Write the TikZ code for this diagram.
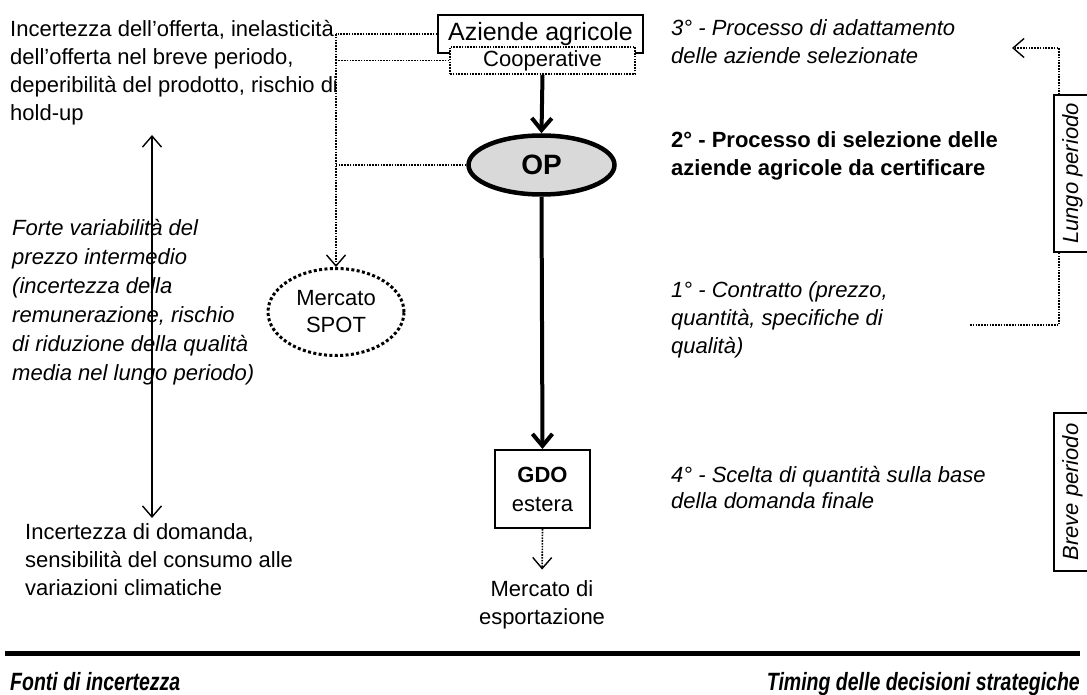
\documentclass[tikz,border=0pt]{standalone}
\usepackage{fontspec}
\setmainfont{Liberation Sans}
\newfontfamily\narrowfont[FakeStretch=0.78]{Liberation Sans}
\usetikzlibrary{shapes.geometric, arrows.meta}
\definecolor{opgray}{RGB}{217,217,217}
\tikzset {
    every node/.style={font=\fontsize{22}{28}\selectfont, inner sep=0pt},
    txt/.style={align=left, anchor=north west},
    box/.style={draw, line width=1.8pt, align=center},
    dotbox/.style={draw, dash pattern=on 1.6pt off 1.2pt, line width=1.8pt, fill=white},
    dotline/.style={dash pattern=on 1.6pt off 1.2pt, line width=1.6pt},
    barb/.style={-{Straight Barb[length=11pt,width=19pt,line width=1.4pt]}},
    heavy/.style={line width=4pt, -{Straight Barb[length=12pt,width=20pt,line width=4pt]}},
    period/.style={draw, fill=white, line width=1.8pt, rotate=90, minimum height=37pt,
        font=\fontsize{22}{28}\selectfont\itshape},
    heading/.style={font=\narrowfont\fontsize{25}{28}\selectfont\bfseries\itshape}
}
\begin{document}
\begin{tikzpicture}[x=1pt, y=-1pt]
    \useasboundingbox (0,0) rectangle (1087,695);

    \node[txt] (offerta) at (10,20) {Incertezza dell'offerta, inelasticità\\dell'offerta nel breve periodo,\\deperibilità del prodotto, rischio di\\hold-up};
    \node[txt, font=\fontsize{22}{29}\selectfont\itshape] (prezzo) at (12,219) {Forte variabilità del\\prezzo intermedio\\(incertezza della\\remunerazione, rischio\\di riduzione della qualità\\media nel lungo periodo)};
    \node[txt] (domanda) at (25,523) {Incertezza di domanda,\\sensibilità del consumo alle\\variazioni climatiche};

    \node[box, minimum width=205, minimum height=38, font=\fontsize{25}{30}\selectfont] (az) at (540.5,34) {Aziende agricole};
    \node[dotbox, minimum width=185, minimum height=27] (coop) at (542.5,60.5) {Cooperative};
    \node[ellipse, draw, fill=opgray, line width=4.5pt, minimum width=146, minimum height=59,
        font=\fontsize{28}{30}\selectfont\bfseries] (op) at (541.5,165) {OP};
    \node[ellipse, draw, dash pattern=on 3pt off 2.4pt, line width=3pt, minimum width=136, minimum height=87,
        align=center, font=\fontsize{22}{27}\selectfont] (spot) at (336,312) {Mercato\\SPOT};
    \node[box, line width=2pt, minimum width=95, minimum height=78, font=\fontsize{22}{29}\selectfont] (gdo) at (542.5,489) {\textbf{GDO}\\estera};
    \node[align=center] (export) at (542,605) {Mercato di\\esportazione};

    \node[txt, font=\fontsize{22}{28}\selectfont\itshape] (step3) at (671,19) {3° - Processo di adattamento\\delle aziende selezionate};
    \node[txt, font=\fontsize{22}{28}\selectfont\bfseries] (step2) at (671,131) {2° - Processo di selezione delle\\aziende agricole da certificare};
    \node[txt, font=\fontsize{22}{28}\selectfont\itshape] (step1) at (671,281) {1° - Contratto (prezzo,\\quantità, specifiche di\\qualità)};
    \node[txt, font=\fontsize{22}{26.5}\selectfont\itshape] (step4) at (671,466) {4° - Scelta di quantità sulla base\\della domanda finale};

    \coordinate (jn) at (336,34);
    \draw[dotline] (az.west) -- (jn);
    \draw[dotline, barb] (jn) -- (spot.north);
    \draw[dotline] (coop.west) -- (coop.west -| jn);
    \draw[dotline] (op.west) -- (op.west -| jn);
    \draw[heavy] (coop.south) -- (op.north);
    \draw[heavy] (op.south) -- (gdo.north);
    \draw[dotline, barb, shorten >=11pt] (gdo.south) -- (export.north);

    \coordinate (up) at (152,135);
    \coordinate (down) at (152,518);
    \draw[line width=1.4pt, {Straight Barb[length=11pt,width=19pt,line width=1.4pt]}-{Straight Barb[length=11pt,width=19pt,line width=1.4pt]}] (up) -- (down);

    \coordinate (from1) at (970,325);
    \coordinate (corner) at (1059,48);
    \coordinate (to3) at (1012,48);
    \draw[dotline, barb] (from1) -| (corner) -- (to3);
    \node[period, minimum width=157] (lungo) at (1072.5,173.5) {Lungo periodo};
    \node[period, minimum width=158] (breve) at (1072.5,492) {Breve periodo};

    \coordinate (ruleL) at (5,653);
    \coordinate (ruleR) at (1080,653);
    \draw[line width=5pt] (ruleL) -- (ruleR);
    \node[heading, anchor=base west] (fonti) at (10,690) {Fonti di incertezza};
    \node[heading, anchor=base east] (timing) at (1080,690) {Timing delle decisioni strategiche};
\end{tikzpicture}
\end{document}
